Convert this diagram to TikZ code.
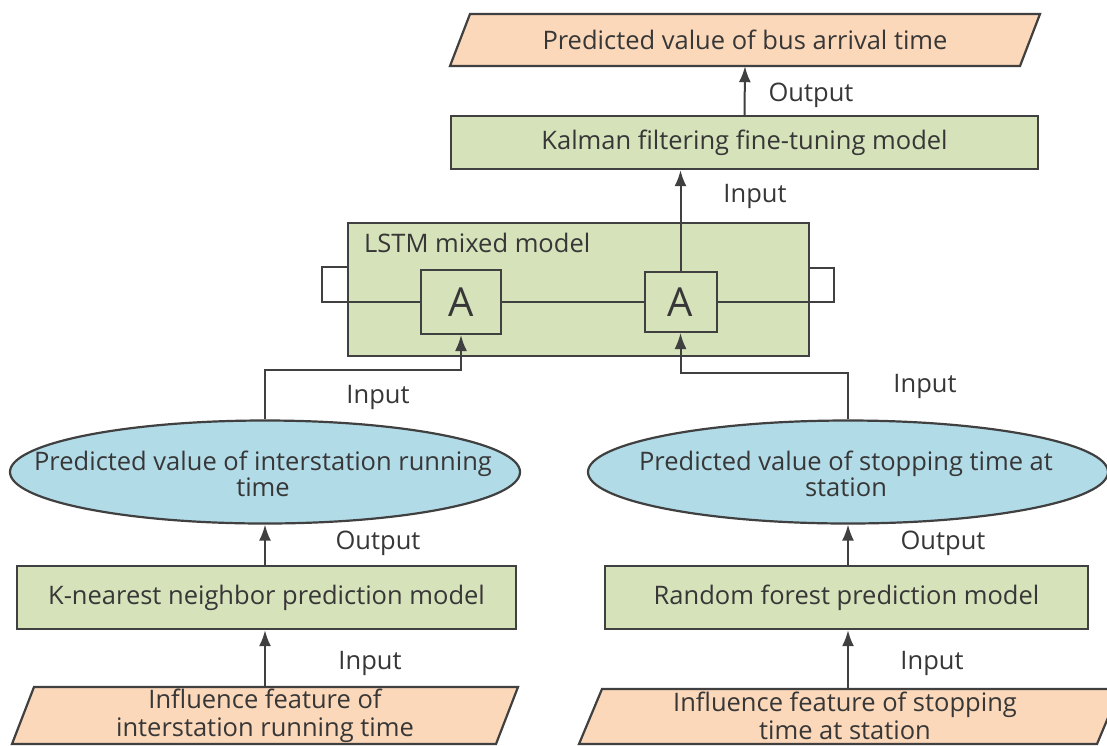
\documentclass[tikz,border=0pt]{standalone}
\usepackage{fontspec}
\setmainfont{Open Sans}
\usetikzlibrary{arrows.meta,shapes.geometric,calc}
\definecolor{boxgreen}{RGB}{214,226,186}
\definecolor{paraorange}{RGB}{251,216,186}
\definecolor{ellblue}{RGB}{178,219,232}
\definecolor{ink}{RGB}{64,64,64}
\definecolor{txt}{RGB}{55,55,55}
\tikzset{
  every node/.style={text=txt, font=\fontsize{25.5}{26}\selectfont},
  modelbox/.style={draw=ink, line width=2.4pt, fill=boxgreen, rectangle, inner sep=0pt},
  cellbox/.style={draw=ink, line width=2pt, fill=boxgreen, rectangle, inner sep=0pt, font=\fontsize{40}{42}\selectfont},
  resultell/.style={draw=ink, line width=2.2pt, fill=ellblue, ellipse, inner sep=0pt},
  paratext/.style={rectangle, inner sep=0pt, align=center},
  parashape/.style={draw=ink, line width=2.2pt, fill=paraorange, line join=miter},
  flow/.style={draw=ink, line width=2pt, -{Latex[length=16pt,width=12pt]}},
  wire/.style={draw=ink, line width=2pt},
  tag/.style={inner sep=0pt}
}
\begin{document}
\begin{tikzpicture}[x=1pt,y=-1pt]
\useasboundingbox (0,0) rectangle (1107,745);
\clip (0,0) rectangle (1107,745);
\fill[white] (0,0) rectangle (1107,745);

% ---- top output: predicted arrival time (parallelogram) ----
\path[parashape] (470,14) -- (1040,14) -- (1020,66) -- (450,66) -- cycle;
\node[paratext, minimum width=570pt, minimum height=52pt] (arrival) at (745,40)
  {Predicted value of bus arrival time};

% ---- Kalman filter ----
\node[modelbox, minimum width=587pt, minimum height=53pt] (kalman) at (744.5,142.5)
  {Kalman filtering fine-tuning model};

% ---- LSTM block ----
\node[modelbox, minimum width=461pt, minimum height=133pt] (lstm) at (578.5,289.5) {};
\node[tag, anchor=west] (lstmlabel) at (364,243) {LSTM mixed model};
\node[cellbox, minimum width=80pt, minimum height=64pt] (cellA) at (461,302) {A};
\node[cellbox, minimum width=72pt, minimum height=60pt] (cellB) at (680.5,302) {A};
\coordinate (loopL) at (322,267);
\coordinate (loopR) at (834,268);
\draw[wire] (lstm.west |- loopL) -- (loopL) |- (cellA.west);
\draw[wire] (cellA.east) -- (cellB.west);
\draw[wire] (cellB.east) -| (loopR) -- (lstm.east |- loopR);

% ---- first-stage predictions ----
\node[resultell, minimum width=510pt, minimum height=103pt] (runpred) at (265,472) {};
\node[paratext] (runpredtext) at (263,474)
  {Predicted value of interstation running\\time};
\node[resultell, minimum width=520pt, minimum height=103pt] (stoppred) at (848,472) {};
\node[paratext] (stoppredtext) at (846,474)
  {Predicted value of stopping time at\\station};

% ---- base models ----
\node[modelbox, minimum width=499pt, minimum height=63pt] (knn) at (266.5,597.5)
  {K-nearest neighbor prediction model};
\node[modelbox, minimum width=483pt, minimum height=63pt] (forest) at (846.5,597.5)
  {Random forest prediction model};

% ---- input features (parallelograms) ----
\path[parashape] (34,687) -- (518,687) -- (496,744) -- (12,744) -- cycle;
\node[paratext, minimum width=484pt, minimum height=57pt] (featrun) at (265,715.5) {};
\node[paratext, font=\fontsize{25.5}{28}\selectfont] (featruntext) at (265,716)
  {Influence feature of\\interstation running time};
\path[parashape] (602,689) -- (1120,689) -- (1097,744) -- (579,744) -- cycle;
\node[paratext, minimum width=518pt, minimum height=55pt] (featstop) at (849.5,716.5) {};
\node[paratext, font=\fontsize{25.5}{28}\selectfont] (featstoptext) at (845,716)
  {Influence feature of stopping\\time at station};

% ---- connectors ----
\draw[flow] (kalman.north) -- (arrival.south);
\draw[flow] (cellB.north) -- (cellB.north |- kalman.south);
\coordinate (runbend) at (265,370);
\coordinate (stopbend) at (848,373);
\draw[flow] (runpred.north) -- (runbend) -| (cellA.south);
\draw[flow] (stoppred.north) -- (stopbend) -| (cellB.south);
\draw[flow] (knn.north -| runpred.south) -- (runpred.south);
\draw[flow] (forest.north -| stoppred.south) -- (stoppred.south);
\draw[flow] (featrun.north) -- (knn.south -| featrun.north);
\draw[flow] (featstop.north -| stoppred.south) -- (forest.south -| stoppred.south);

% ---- connector labels ----
\node[tag] (lblout1) at (811,95) {Output};
\node[tag] (lblin1) at (755,196) {Input};
\node[tag] (lblin2) at (378,397) {Input};
\node[tag] (lblin3) at (925,386) {Input};
\node[tag] (lblout2) at (378,543) {Output};
\node[tag] (lblout3) at (943,543) {Output};
\node[tag] (lblin4) at (370,663) {Input};
\node[tag] (lblin5) at (932,663) {Input};
\end{tikzpicture}
\end{document}
